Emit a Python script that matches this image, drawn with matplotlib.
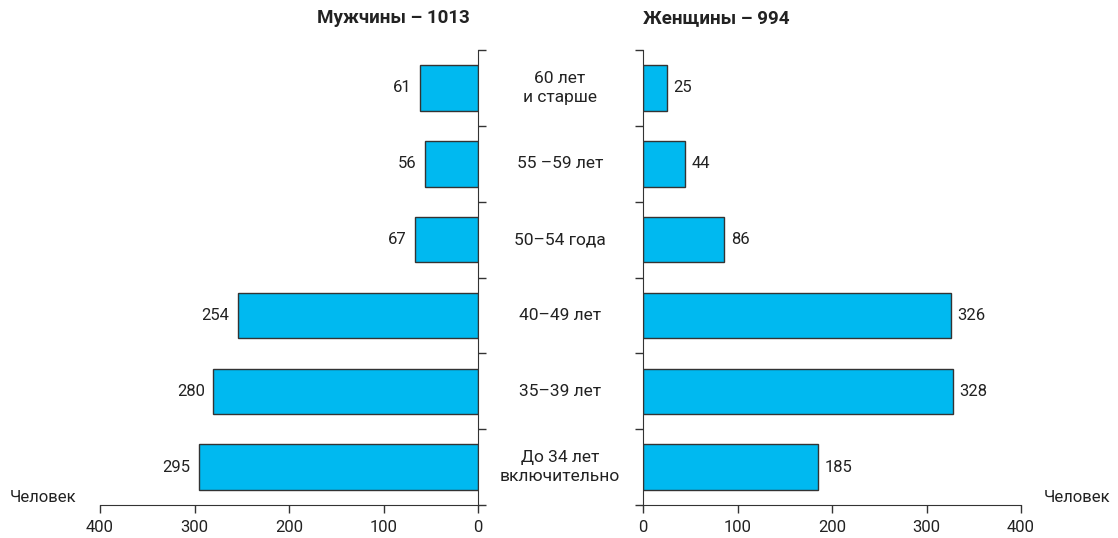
import matplotlib.pyplot as plt
import numpy as np

plt.rcParams['font.family'] = ['Roboto', 'DejaVu Sans']

# data, top to bottom
groups = ['60 лет\nи старше', '55 –59 лет', '50–54 года', '40–49 лет', '35–39 лет', 'До 34 лет\nвключительно']
men = [61, 56, 67, 254, 280, 295]
women = [25, 44, 86, 326, 328, 185]
ticks = [0, 100, 200, 300, 400]

bar_color = '#00b9f0'
edge = '#333333'

fig = plt.figure(figsize=(11.18, 5.38), dpi=100)
axl = fig.add_axes([100/1118, 33/538, 378/1118, 455/538])
axr = fig.add_axes([643/1118, 33/538, 378/1118, 455/538])

y = np.arange(len(groups))

for ax, vals in ((axl, men), (axr, women)):
    ax.barh(y, vals, height=0.6, color=bar_color, edgecolor=edge, linewidth=1)
    ax.set_ylim(len(groups) - 0.5, -0.5)
    ax.set_xlim(0, 400)
    ax.set_xticks(ticks)
    ax.set_yticks(np.arange(len(groups) + 1) - 0.5)
    ax.set_yticklabels([])
    ax.tick_params(axis='both', direction='out', length=6, width=1, colors='#333333',
                   labelsize=12, labelcolor='#222222')
    ax.tick_params(axis='x', pad=5)
    ax.spines['top'].set_visible(False)
    ax.spines['bottom'].set_color('#333333')

axl.invert_xaxis()
axl.spines['left'].set_visible(False)
axl.yaxis.tick_right()
axl.spines['right'].set_color('#333333')
axr.spines['right'].set_visible(False)
axr.spines['left'].set_color('#333333')

for i, v in enumerate(men):
    axl.text(v + 9, i, str(v), ha='right', va='center', fontsize=12, color='#222222')
for i, v in enumerate(women):
    axr.text(v + 7, i, str(v), ha='left', va='center', fontsize=12, color='#222222')

# group labels in the middle
for i, g in enumerate(groups):
    yy = axl.transData.transform((0, i))[1]
    fig.text(560/1118, yy/fig.dpi/fig.get_figheight(), g, ha='center', va='center',
             fontsize=12.5, color='#222222', linespacing=1.3)

fig.text(470/1118, 1 - 18/538, 'Мужчины – 1013', ha='right', va='center',
         fontsize=13.5, fontweight='bold', color='#222222')
fig.text(643/1118, 1 - 18/538, 'Женщины – 994', ha='left', va='center',
         fontsize=13.5, fontweight='bold', color='#222222')
fig.text(10/1118, 1 - 497/538, 'Человек', ha='left', va='center', fontsize=12, color='#222222')
fig.text(1110/1118, 1 - 497/538, 'Человек', ha='right', va='center', fontsize=12, color='#222222')

fig.savefig('out.png', dpi=100)
